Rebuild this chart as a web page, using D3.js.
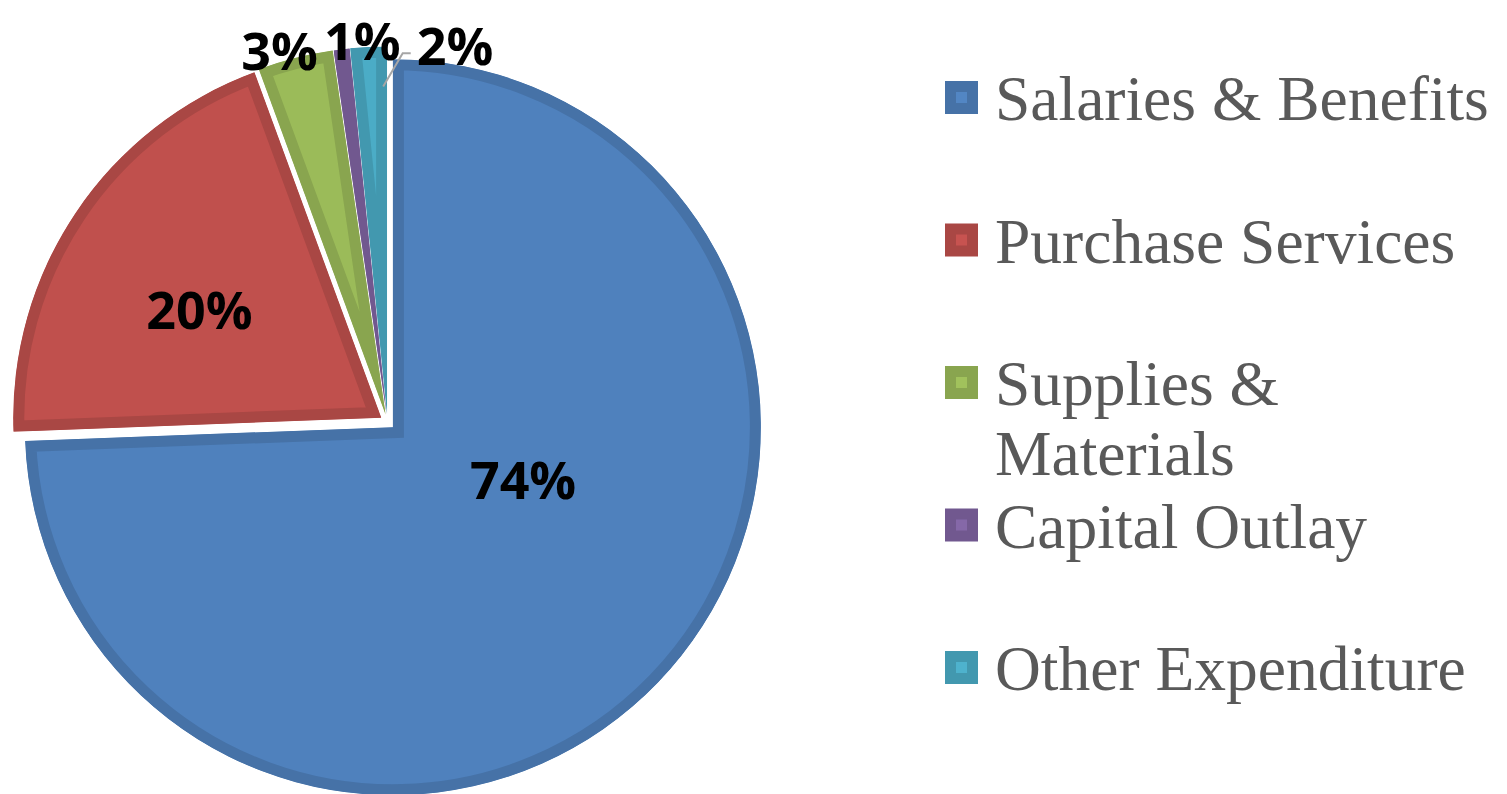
<!DOCTYPE html>
<html>
<head>
<meta charset="utf-8">
<script src="https://cdn.jsdelivr.net/npm/d3@7"></script>
<style>
  html, body { margin: 0; padding: 0; background: #fff; }
  #chart { width: 1507px; height: 794px; }
</style>
</head>
<body>
<div id="chart"></div>
<script>
const categories = ['Salaries & Benefits', 'Purchase Services', 'Supplies & Materials', 'Capital Outlay', 'Other Expenditure']
const shares = [74.4, 20.0, 3.3, 0.7, 1.6]
const colors = ['#4F81BD', '#C0504D', '#9BBB59', '#8064A2', '#4BACC6']

// label placement, relative to each exploded slice: [angle in degrees, distance]
const labelPlacement = [[111.6, 140], [300.9, 212], [343.8, 380], [356.3, 376], [10.4, 376]]

const width = 1507
const height = 794
const margin = { top: 54, left: 20 }
const radius = 368
const explode = 7.5
const band = 11

const svg = d3.select('#chart')
  .append('svg')
  .attr('width', width)
  .attr('height', height)
  .attr('viewBox', [0, 0, width, height].join(' '))

const cx = margin.left + radius - 0.5
const cy = margin.top + radius

const pie = d3.pie().sort(null).value(d => d)
const arcs = pie(shares)
const arc = d3.arc().innerRadius(0).outerRadius(radius)

const polar = (a, r) => [r * Math.sin(a), -r * Math.cos(a)]
const deg = d => d * Math.PI / 180
const shift = d => polar((d.startAngle + d.endAngle) / 2, explode)

const defs = svg.append('defs')
const pieG = svg.append('g').attr('transform', `translate(${cx},${cy})`)
const slicesG = pieG.append('g').attr('class', 'slices')
const labelsG = pieG.append('g').attr('class', 'labels')

const slice = slicesG.selectAll('g.slice')
  .data(arcs)
  .join('g')
  .attr('class', 'slice')
  .attr('transform', d => `translate(${shift(d).join(',')})`)

slice.each(function (d, i) {
  defs.append('clipPath').attr('id', `clip-${i}`)
    .append('path').attr('d', arc(d))
})

slice.append('path')
  .attr('d', arc)
  .attr('fill', (d, i) => colors[i])
  .attr('stroke', (d, i) => d3.color(colors[i]).darker(0.35))
  .attr('stroke-width', band * 2)
  .attr('stroke-linejoin', 'miter')
  .attr('clip-path', (d, i) => `url(#clip-${i})`)

// data labels, drawn above every slice
const label = labelsG.selectAll('g.label')
  .data(arcs)
  .join('g')
  .attr('class', 'label')
  .attr('transform', d => `translate(${shift(d).join(',')})`)

const labels = label.append('text')
  .attr('x', (d, i) => polar(deg(labelPlacement[i][0]), labelPlacement[i][1])[0])
  .attr('y', (d, i) => polar(deg(labelPlacement[i][0]), labelPlacement[i][1])[1])
  .attr('text-anchor', 'middle')
  .attr('dominant-baseline', 'central')
  .attr('font-family', '"Open Sans", Lato, sans-serif')
  .attr('font-weight', 'bold')
  .attr('font-size', 52)
  .attr('fill', '#000')
  .text(d => `${Math.round(d.value)}%`)

// leader line for the smallest outside label
labels.filter((d, i) => i === 4).each(function (d) {
  const b = this.getBBox()
  const g = d3.select(this.parentNode)
  const start = polar(d.endAngle - 0.012, radius - 40)
  const end = [b.x - 6, b.y + b.height * 0.62]
  const elbow = [end[0] - 8, end[1]]
  g.insert('path', 'text')
    .attr('d', d3.line()([start, elbow, end]))
    .attr('fill', 'none')
    .attr('stroke', '#A6A6A6')
    .attr('stroke-width', 2)
})

// legend
const legend = svg.append('g').attr('transform', 'translate(945,0)')
const legendStep = 142.5
const lineGap = 70
const maxTextWidth = width - 995 - 4

const item = legend.selectAll('g.item')
  .data(categories)
  .join('g')
  .attr('class', 'item')
  .attr('transform', (d, i) => `translate(0,${120 + i * legendStep})`)

item.append('rect')
  .attr('fill', (d, i) => d3.color(colors[i]).brighter(0.1))
  .attr('stroke', (d, i) => d3.color(colors[i]).darker(0.35))
  .attr('stroke-width', 11)
  .attr('x', 5.5)
  .attr('y', -33.5)
  .attr('width', 22)
  .attr('height', 22)

item.append('text')
  .attr('x', 50)
  .attr('font-family', '"Liberation Serif", "Times New Roman", serif')
  .attr('font-size', 63.5)
  .attr('fill', '#595959')
  .each(function (d) {
    const text = d3.select(this)
    const words = d.split(' ')
    let line = []
    let tspan = text.append('tspan').attr('x', 50).attr('y', 0)
    let lineNo = 0
    for (const w of words) {
      line.push(w)
      tspan.text(line.join(' '))
      if (tspan.node().getComputedTextLength() > maxTextWidth && line.length > 1) {
        line.pop()
        tspan.text(line.join(' '))
        line = [w]
        lineNo += 1
        tspan = text.append('tspan').attr('x', 50).attr('y', lineNo * lineGap).text(w)
      }
    }
  })
</script>
</body>
</html>
